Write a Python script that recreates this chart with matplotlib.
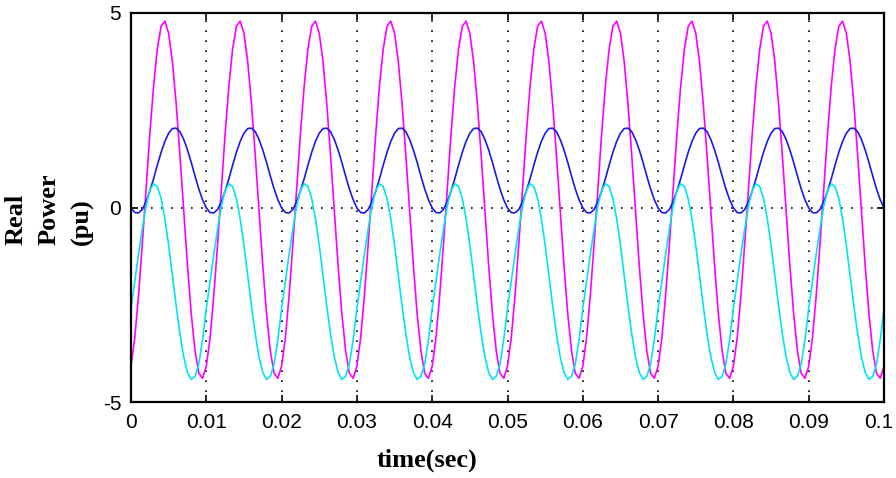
import numpy as np
import matplotlib
matplotlib.use("Agg")
import matplotlib.pyplot as plt
from matplotlib.transforms import ScaledTranslation

period = 0.01
n_periods = 10
magenta_period = [-4.08, -3.35, -2.26, -0.94, 0.49, 1.89, 3.13, 4.08, 4.66, 4.79,
                  4.48, 3.75, 2.66, 1.34, -0.09, -1.49, -2.73, -3.68, -4.26, -4.39]
blue_period = [-0.01, -0.13, -0.14, -0.05, 0.15, 0.42, 0.74, 1.09, 1.42, 1.70,
               1.91, 2.03, 2.04, 1.95, 1.75, 1.48, 1.16, 0.81, 0.48, 0.20]
cyan_period = [-2.60, -1.90, -1.20, -0.55, 0.04, 0.44, 0.61, 0.54, 0.23, -0.29,
               -0.97, -1.74, -2.53, -3.25, -3.84, -4.24, -4.42, -4.34, -4.03, -3.40]

xticks = [0, 0.01, 0.02, 0.03, 0.04, 0.05, 0.06, 0.07, 0.08, 0.09, 0.1]
xtick_labels = ["0", "0.01", "0.02", "0.03", "0.04", "0.05", "0.06", "0.07", "0.08", "0.09", "0.1"]
yticks = [-5, 0, 5]
ytick_labels = ["-5", "0", "5"]

n = len(magenta_period)
t = np.arange(n * n_periods + 1) * (period / n)
mag = np.append(np.tile(magenta_period, n_periods), magenta_period[0])
blu = np.append(np.tile(blue_period, n_periods), blue_period[0])
cya = np.append(np.tile(cyan_period, n_periods), cyan_period[0])

fig = plt.figure(figsize=(8.96, 4.78), dpi=100)
ax = fig.add_axes([131/896, 1 - 402/478, (884-131)/896, (402-13)/478])

ax.plot(t, mag, color="#ff00ff", lw=1.2)
ax.plot(t, blu, color="#1a1ae6", lw=1.2)
ax.plot(t, cya, color="#00e6f0", lw=1.2)

ax.set_xlim(0, 0.1)
ax.set_ylim(-5, 5)
ax.set_xticks(xticks)
ax.set_xticklabels(xtick_labels)
ax.set_yticks(yticks)
ax.set_yticklabels(ytick_labels)

for s in ax.spines.values():
    s.set_linewidth(1.6)
    s.set_color("black")
    s.set_zorder(5)

ax.tick_params(direction="in", length=5, width=1.2, top=True, right=True,
               labelsize=15)
ax.tick_params(axis="x", pad=8)
ax.tick_params(axis="y", pad=7)
for lab in ax.get_xticklabels() + ax.get_yticklabels():
    lab.set_fontfamily("Liberation Sans")

# keep the last x tick label inside the figure
last = ax.get_xticklabels()[-1]
last.set_transform(last.get_transform() + ScaledTranslation(-5/100, 0, fig.dpi_scale_trans))

ax.grid(True, color="black", linestyle=(0, (1, 5)), linewidth=1.2)

fig.text(49/896, 1 - 245/478, "Real\nPower\n(pu)", rotation=90, ha="center",
         va="bottom", multialignment="left", fontsize=19, fontweight="bold",
         family="Liberation Serif", linespacing=1.55)
fig.text(427/896, 1 - 460/478, "time(sec)", ha="center", va="center",
         fontsize=19, fontweight="bold", family="Liberation Serif")

fig.savefig("out.png", dpi=100)
